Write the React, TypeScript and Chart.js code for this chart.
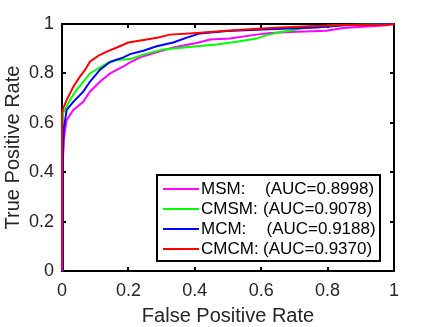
import React, { useEffect, useRef } from "react";
import { Chart, registerables } from "chart.js";

Chart.register(...registerables);

const seriesNames = ["MSM:", "CMSM:", "MCM:", "CMCM:"];
const aucLabels = ["(AUC=0.8998)", "(AUC=0.9078)", "(AUC=0.9188)", "(AUC=0.9370)"];
const seriesColors = ["#ff00ff", "#00ff00", "#0000ff", "#ff0000"];

const xTickValues = [0, 0.2, 0.4, 0.6, 0.8, 1];
const xTickLabels = ["0", "0.2", "0.4", "0.6", "0.8", "1"];
const yTickValues = [0, 0.2, 0.4, 0.6, 0.8, 1];
const yTickLabels = ["0", "0.2", "0.4", "0.6", "0.8", "1"];

const msmX = [0, 0.003, 0.005, 0.014, 0.034, 0.064, 0.084, 0.114, 0.145, 0.185, 0.205, 0.235, 0.285, 0.335, 0.406, 0.446, 0.506, 0.586, 0.627, 0.687, 0.797, 0.847, 0.918, 0.97, 1];
const msmY = [0, 0.46, 0.53, 0.611, 0.652, 0.685, 0.726, 0.766, 0.8, 0.828, 0.845, 0.865, 0.885, 0.905, 0.923, 0.937, 0.941, 0.957, 0.964, 0.968, 0.973, 0.984, 0.99, 0.994, 1];

const cmsmX = [0, 0.003, 0.024, 0.044, 0.064, 0.084, 0.11, 0.135, 0.165, 0.205, 0.245, 0.305, 0.406, 0.466, 0.526, 0.586, 0.617, 0.657, 0.687, 0.747, 0.85, 1];
const cmsmY = [0, 0.638, 0.692, 0.733, 0.766, 0.8, 0.82, 0.84, 0.854, 0.858, 0.876, 0.897, 0.91, 0.917, 0.928, 0.941, 0.955, 0.968, 0.973, 0.99, 0.996, 1];

const mcmX = [0, 0.003, 0.005, 0.014, 0.034, 0.064, 0.084, 0.114, 0.145, 0.185, 0.205, 0.245, 0.285, 0.335, 0.376, 0.416, 0.496, 0.605, 0.767, 0.85, 1];
const mcmY = [0, 0.46, 0.571, 0.652, 0.685, 0.726, 0.766, 0.814, 0.847, 0.865, 0.878, 0.892, 0.91, 0.925, 0.945, 0.962, 0.972, 0.978, 0.986, 0.995, 1];

const cmcmX = [0, 0, 0.004, 0.014, 0.034, 0.054, 0.07, 0.084, 0.11, 0.135, 0.165, 0.2, 0.255, 0.29, 0.325, 0.406, 0.506, 0.627, 0.726, 0.85, 0.978, 1];
const cmcmY = [0, 0.64, 0.66, 0.692, 0.746, 0.787, 0.815, 0.847, 0.872, 0.888, 0.905, 0.925, 0.937, 0.945, 0.957, 0.964, 0.974, 0.984, 0.99, 0.996, 0.997, 1];

const allX = [msmX, cmsmX, mcmX, cmcmX];
const allY = [msmY, cmsmY, mcmY, cmcmY];

const FONT = "'Liberation Sans', Arial, sans-serif";
const TEXT = "#262626";

const framePlugin = {
  id: "frame",
  beforeDatasetsDraw(chart: any) {
    const { ctx, chartArea: a, scales } = chart;
    ctx.save();
    ctx.strokeStyle = "#000";
    ctx.lineWidth = 2;
    ctx.strokeRect(a.left, a.top, a.right - a.left, a.bottom - a.top);
    const len = 4;
    ctx.beginPath();
    xTickValues.forEach((v) => {
      const px = Math.round(scales.x.getPixelForValue(v));
      ctx.moveTo(px, a.bottom);
      ctx.lineTo(px, a.bottom - len);
      ctx.moveTo(px, a.top);
      ctx.lineTo(px, a.top + len);
    });
    yTickValues.forEach((v) => {
      const py = Math.round(scales.y.getPixelForValue(v));
      ctx.moveTo(a.left, py);
      ctx.lineTo(a.left + len, py);
      ctx.moveTo(a.right, py);
      ctx.lineTo(a.right - len, py);
    });
    ctx.stroke();
    ctx.restore();
  },
  afterDraw(chart: any) {
    const { ctx } = chart;
    ctx.save();
    const bx = 157, by = 175, bw = 223, bh = 86;
    ctx.fillStyle = "#fff";
    ctx.fillRect(bx, by, bw, bh);
    ctx.strokeStyle = "#000";
    ctx.lineWidth = 2;
    ctx.strokeRect(bx, by, bw, bh);
    ctx.font = `17px ${FONT}`;
    ctx.textBaseline = "middle";
    ctx.textAlign = "left";
    const aucX = [265, 263, 266.5, 263];
    seriesNames.forEach((name, i) => {
      const y = 189 + i * 20;
      ctx.strokeStyle = seriesColors[i];
      ctx.lineWidth = 2;
      ctx.beginPath();
      ctx.moveTo(163, y);
      ctx.lineTo(199, y);
      ctx.stroke();
      ctx.fillStyle = "#000";
      ctx.fillText(name, 201, y);
      ctx.fillText(aucLabels[i], aucX[i], y);
    });
    ctx.restore();
  },
};

export default function App() {
  const ref = useRef<HTMLCanvasElement | null>(null);
  useEffect(() => {
    if (!ref.current) return;
    const orders = [3, 2, 1, 0];
    const chart = new Chart(ref.current, {
      type: "scatter",
      data: {
        datasets: seriesNames.map((n, i) => ({
          label: n,
          data: allX[i].map((x, j) => ({ x, y: allY[i][j] })),
          showLine: true,
          borderColor: seriesColors[i],
          backgroundColor: seriesColors[i],
          borderWidth: 2,
          pointRadius: 0,
          tension: 0,
          clip: false,
          order: orders[i],
        })),
      },
      options: {
        animation: false,
        responsive: false,
        layout: { padding: { top: 24, right: 42, left: 0, bottom: 0 } },
        plugins: { legend: { display: false }, tooltip: { enabled: false } },
        scales: {
          x: {
            type: "linear",
            min: 0,
            max: 1,
            afterFit: (s: any) => { s.height = 56; },
            afterBuildTicks: (s: any) => { s.ticks = xTickValues.map((v) => ({ value: v })); },
            ticks: {
              callback: (_v: any, i: number) => xTickLabels[i],
              color: TEXT,
              font: { size: 18, family: FONT },
              padding: 9,
              maxRotation: 0,
            },
            grid: { display: false, drawTicks: false },
            border: { display: false },
            title: {
              display: true,
              text: "False Positive Rate",
              color: TEXT,
              font: { size: 20, family: FONT, lineHeight: 1 },
              padding: { top: 0, bottom: 1 },
            },
          },
          y: {
            type: "linear",
            min: 0,
            max: 1,
            afterFit: (s: any) => { s.width = 62; },
            afterBuildTicks: (s: any) => { s.ticks = yTickValues.map((v) => ({ value: v })); },
            ticks: {
              callback: (_v: any, i: number) => yTickLabels[i],
              color: TEXT,
              font: { size: 18, family: FONT },
              padding: 8,
            },
            grid: { display: false, drawTicks: false },
            border: { display: false },
            title: {
              display: true,
              text: "True Positive Rate",
              color: TEXT,
              font: { size: 20, family: FONT, lineHeight: 1 },
              padding: { top: 3, bottom: 0 },
            },
          },
        },
      },
      plugins: [framePlugin],
    } as any);
    return () => chart.destroy();
  }, []);
  return (
    <div style={{ position: "fixed", left: 0, top: 0, width: 436, height: 327, background: "#fff" }}>
      <canvas ref={ref} width={436} height={327} />
    </div>
  );
}
